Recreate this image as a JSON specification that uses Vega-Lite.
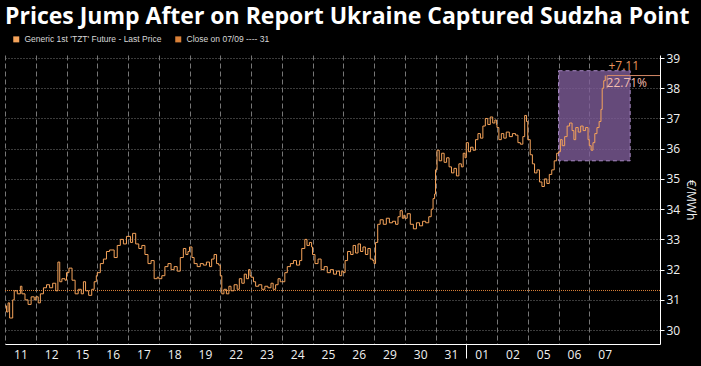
{
  "$schema": "https://vega.github.io/schema/vega-lite/v6.json",
  "width": 655,
  "height": 289,
  "autosize": {"type": "none"},
  "padding": {"left": 5, "top": 55, "right": 41, "bottom": 22},
  "background": "#000000",
  "title": {
    "text": "Prices Jump After on Report Ukraine Captured Sudzha Point",
    "anchor": "start",
    "frame": "group",
    "font": "Open Sans",
    "fontSize": 23,
    "fontWeight": "bold",
    "color": "#ffffff",
    "offset": 6
  },
  "config": {
    "view": {"stroke": null},
    "axis": {
      "labelFont": "Open Sans",
      "titleFont": "Open Sans",
      "labelColor": "#f0f0f0",
      "titleColor": "#f0f0f0",
      "domainColor": "#ffffff",
      "tickColor": "#ffffff",
      "labelOverlap": false
    },
    "legend": {
      "orient": "none",
      "legendX": 7,
      "legendY": -20,
      "direction": "horizontal",
      "symbolType": "square",
      "symbolSize": 9,
      "symbolStrokeWidth": 3,
      "symbolOpacity": 1,
      "labelFont": "Liberation Sans",
      "labelFontSize": 8.5,
      "labelColor": "#d8d8d8",
      "labelLimit": 300,
      "labelOffset": 4,
      "columnPadding": 8,
      "title": null
    }
  },
  "datasets": {
    "box": [{"i": 18.0, "i2": 20.33, "p": 35.6, "p2": 38.58}],
    "close": [{"i": 0, "i2": 21.3, "p": 31.31}],
    "ann": [{"i": 19.58, "i2": 21.3, "p": 38.42}],
    "annv": [{"i": 19.58, "p": 38.42, "p2": 38.0}],
    "txt1": [{"i": 20.12, "p": 38.74, "t": "+7.11"}],
    "txt2": [{"i": 20.22, "p": 38.17, "t": "22.71%"}],
    "price": [
      {"i": 0.00, "p": 30.8}, {"i": 0.05, "p": 30.6}, {"i": 0.10, "p": 30.9}, {"i": 0.15, "p": 30.4},
      {"i": 0.25, "p": 31.0}, {"i": 0.30, "p": 31.3}, {"i": 0.40, "p": 31.2}, {"i": 0.50, "p": 31.45},
      {"i": 0.55, "p": 31.2}, {"i": 0.65, "p": 31.0}, {"i": 0.75, "p": 30.85}, {"i": 0.85, "p": 31.1},
      {"i": 0.95, "p": 31.0},
      {"i": 1.00, "p": 31.1}, {"i": 1.08, "p": 30.9}, {"i": 1.15, "p": 31.2}, {"i": 1.25, "p": 31.4},
      {"i": 1.35, "p": 31.5}, {"i": 1.45, "p": 31.4}, {"i": 1.55, "p": 31.55}, {"i": 1.65, "p": 31.3},
      {"i": 1.72, "p": 32.25}, {"i": 1.78, "p": 31.6}, {"i": 1.85, "p": 31.7}, {"i": 1.95, "p": 31.65},
      {"i": 2.00, "p": 31.9}, {"i": 2.08, "p": 32.05}, {"i": 2.18, "p": 31.65}, {"i": 2.28, "p": 31.2},
      {"i": 2.38, "p": 31.35}, {"i": 2.48, "p": 31.2}, {"i": 2.55, "p": 31.6}, {"i": 2.62, "p": 31.3},
      {"i": 2.72, "p": 31.15}, {"i": 2.82, "p": 31.35}, {"i": 2.90, "p": 31.6}, {"i": 2.97, "p": 31.8},
      {"i": 3.00, "p": 31.9}, {"i": 3.10, "p": 32.2}, {"i": 3.20, "p": 32.35}, {"i": 3.30, "p": 32.6},
      {"i": 3.40, "p": 32.65}, {"i": 3.55, "p": 32.4}, {"i": 3.65, "p": 32.8}, {"i": 3.75, "p": 33.0},
      {"i": 3.85, "p": 32.85}, {"i": 3.95, "p": 33.1},
      {"i": 4.00, "p": 33.1}, {"i": 4.08, "p": 32.9}, {"i": 4.15, "p": 33.2}, {"i": 4.25, "p": 32.85},
      {"i": 4.35, "p": 32.7}, {"i": 4.45, "p": 32.8}, {"i": 4.55, "p": 32.5}, {"i": 4.65, "p": 32.2},
      {"i": 4.75, "p": 32.3}, {"i": 4.85, "p": 31.7}, {"i": 4.95, "p": 31.75},
      {"i": 5.00, "p": 31.7}, {"i": 5.10, "p": 31.8}, {"i": 5.20, "p": 32.1}, {"i": 5.30, "p": 32.2},
      {"i": 5.40, "p": 32.0}, {"i": 5.50, "p": 32.1}, {"i": 5.60, "p": 31.95}, {"i": 5.70, "p": 32.4},
      {"i": 5.80, "p": 32.7}, {"i": 5.88, "p": 32.5}, {"i": 5.95, "p": 32.6},
      {"i": 6.00, "p": 32.75}, {"i": 6.08, "p": 32.4}, {"i": 6.15, "p": 32.2}, {"i": 6.25, "p": 32.1},
      {"i": 6.35, "p": 32.2}, {"i": 6.45, "p": 32.15}, {"i": 6.55, "p": 32.25}, {"i": 6.65, "p": 32.1},
      {"i": 6.72, "p": 32.35}, {"i": 6.80, "p": 32.5}, {"i": 6.88, "p": 32.2}, {"i": 6.95, "p": 32.15},
      {"i": 7.00, "p": 31.8}, {"i": 7.05, "p": 31.2}, {"i": 7.12, "p": 31.35}, {"i": 7.20, "p": 31.2},
      {"i": 7.28, "p": 31.45}, {"i": 7.35, "p": 31.3}, {"i": 7.45, "p": 31.5}, {"i": 7.55, "p": 31.35},
      {"i": 7.62, "p": 31.7}, {"i": 7.70, "p": 31.55}, {"i": 7.78, "p": 31.85}, {"i": 7.85, "p": 31.7},
      {"i": 7.92, "p": 32.0}, {"i": 7.97, "p": 31.8},
      {"i": 8.00, "p": 31.75}, {"i": 8.08, "p": 31.6}, {"i": 8.15, "p": 31.45}, {"i": 8.25, "p": 31.5},
      {"i": 8.35, "p": 31.35}, {"i": 8.45, "p": 31.45}, {"i": 8.55, "p": 31.4}, {"i": 8.65, "p": 31.55},
      {"i": 8.72, "p": 31.35}, {"i": 8.80, "p": 31.5}, {"i": 8.88, "p": 31.7}, {"i": 8.95, "p": 31.6},
      {"i": 9.00, "p": 31.6}, {"i": 9.10, "p": 31.9}, {"i": 9.18, "p": 32.1}, {"i": 9.28, "p": 32.2},
      {"i": 9.38, "p": 32.3}, {"i": 9.48, "p": 32.15}, {"i": 9.58, "p": 32.3}, {"i": 9.65, "p": 32.7},
      {"i": 9.75, "p": 33.0}, {"i": 9.82, "p": 32.8}, {"i": 9.90, "p": 32.9}, {"i": 9.97, "p": 32.75},
      {"i": 10.00, "p": 32.5}, {"i": 10.08, "p": 32.2}, {"i": 10.18, "p": 32.35}, {"i": 10.28, "p": 32.0},
      {"i": 10.38, "p": 32.1}, {"i": 10.48, "p": 31.9}, {"i": 10.58, "p": 32.0}, {"i": 10.68, "p": 31.85},
      {"i": 10.78, "p": 31.95}, {"i": 10.88, "p": 31.8}, {"i": 10.95, "p": 31.95},
      {"i": 11.00, "p": 31.9}, {"i": 11.06, "p": 32.3}, {"i": 11.14, "p": 32.6}, {"i": 11.24, "p": 32.5},
      {"i": 11.32, "p": 32.8}, {"i": 11.40, "p": 32.55}, {"i": 11.48, "p": 32.85}, {"i": 11.56, "p": 32.6},
      {"i": 11.64, "p": 32.75}, {"i": 11.72, "p": 32.5}, {"i": 11.80, "p": 32.7}, {"i": 11.88, "p": 32.35},
      {"i": 11.96, "p": 32.3},
      {"i": 12.00, "p": 32.2}, {"i": 12.05, "p": 32.9}, {"i": 12.12, "p": 33.5}, {"i": 12.20, "p": 33.65},
      {"i": 12.30, "p": 33.5}, {"i": 12.40, "p": 33.7}, {"i": 12.50, "p": 33.55}, {"i": 12.60, "p": 33.6},
      {"i": 12.70, "p": 33.5}, {"i": 12.78, "p": 33.75}, {"i": 12.85, "p": 33.95}, {"i": 12.92, "p": 33.7},
      {"i": 12.97, "p": 33.8},
      {"i": 13.00, "p": 33.7}, {"i": 13.08, "p": 33.85}, {"i": 13.18, "p": 33.5}, {"i": 13.28, "p": 33.35},
      {"i": 13.38, "p": 33.55}, {"i": 13.48, "p": 33.45}, {"i": 13.58, "p": 33.6}, {"i": 13.68, "p": 33.55},
      {"i": 13.78, "p": 33.75}, {"i": 13.86, "p": 34.0}, {"i": 13.92, "p": 34.35}, {"i": 13.97, "p": 34.5},
      {"i": 14.00, "p": 35.3}, {"i": 14.05, "p": 35.95}, {"i": 14.12, "p": 35.6}, {"i": 14.20, "p": 35.85},
      {"i": 14.28, "p": 35.55}, {"i": 14.36, "p": 35.7}, {"i": 14.44, "p": 35.4}, {"i": 14.52, "p": 35.2},
      {"i": 14.60, "p": 35.35}, {"i": 14.68, "p": 35.1}, {"i": 14.76, "p": 35.5}, {"i": 14.84, "p": 35.4},
      {"i": 14.90, "p": 35.85}, {"i": 14.96, "p": 35.7},
      {"i": 15.00, "p": 36.2}, {"i": 15.07, "p": 35.9}, {"i": 15.14, "p": 36.05}, {"i": 15.22, "p": 35.95},
      {"i": 15.30, "p": 36.3}, {"i": 15.38, "p": 36.5}, {"i": 15.46, "p": 36.35}, {"i": 15.54, "p": 36.75},
      {"i": 15.62, "p": 37.0}, {"i": 15.70, "p": 36.8}, {"i": 15.78, "p": 37.05}, {"i": 15.86, "p": 36.85},
      {"i": 15.93, "p": 36.95}, {"i": 15.98, "p": 36.8},
      {"i": 16.00, "p": 36.7}, {"i": 16.06, "p": 36.3}, {"i": 16.14, "p": 36.5}, {"i": 16.22, "p": 36.35},
      {"i": 16.30, "p": 36.55}, {"i": 16.40, "p": 36.4}, {"i": 16.50, "p": 36.5}, {"i": 16.60, "p": 36.45},
      {"i": 16.68, "p": 36.2}, {"i": 16.76, "p": 36.15}, {"i": 16.84, "p": 36.4}, {"i": 16.90, "p": 37.1},
      {"i": 16.96, "p": 36.9},
      {"i": 17.00, "p": 36.3}, {"i": 17.08, "p": 35.8}, {"i": 17.15, "p": 35.5}, {"i": 17.22, "p": 35.2},
      {"i": 17.30, "p": 35.3}, {"i": 17.38, "p": 34.9}, {"i": 17.46, "p": 34.75}, {"i": 17.54, "p": 35.0},
      {"i": 17.62, "p": 34.85}, {"i": 17.70, "p": 35.15}, {"i": 17.78, "p": 35.3}, {"i": 17.86, "p": 35.6},
      {"i": 17.94, "p": 35.85},
      {"i": 18.00, "p": 35.9}, {"i": 18.06, "p": 36.3}, {"i": 18.12, "p": 36.1}, {"i": 18.20, "p": 36.4},
      {"i": 18.28, "p": 36.75}, {"i": 18.36, "p": 36.85}, {"i": 18.44, "p": 36.6}, {"i": 18.50, "p": 36.3},
      {"i": 18.56, "p": 36.7}, {"i": 18.64, "p": 36.55}, {"i": 18.72, "p": 36.75}, {"i": 18.80, "p": 36.6},
      {"i": 18.88, "p": 36.7}, {"i": 18.96, "p": 36.3},
      {"i": 19.00, "p": 36.1}, {"i": 19.06, "p": 35.95}, {"i": 19.12, "p": 36.2}, {"i": 19.18, "p": 36.5},
      {"i": 19.25, "p": 36.7}, {"i": 19.32, "p": 36.9}, {"i": 19.38, "p": 37.3}, {"i": 19.42, "p": 38.0},
      {"i": 19.47, "p": 38.25}, {"i": 19.52, "p": 38.42}
    ]
  },
  "encoding": {
    "x": {
      "field": "i", "type": "quantitative",
      "scale": {"domain": [0, 21.3], "nice": false, "zero": false},
      "axis": {
        "title": null,
        "values": [0, 0.5, 1, 1.5, 2, 2.5, 3, 3.5, 4, 4.5, 5, 5.5, 6, 6.5, 7, 7.5, 8, 8.5, 9, 9.5, 10, 10.5, 11, 11.5, 12, 12.5, 13, 13.5, 14, 14.5, 15, 15.5, 16, 16.5, 17, 17.5, 18, 18.5, 19, 19.5],
        "labelExpr": "datum.value % 1 == 0.5 ? ['11','12','15','16','17','18','19','22','23','24','25','26','29','30','31','01','02','05','06','07'][floor(datum.value)] : ''",
        "labelOverlap": false,
        "labelFlush": false,
        "labelBound": false,
        "labelFontSize": 12,
        "labelPadding": -9,
        "grid": true,
        "gridColor": "#767676",
        "gridDash": [5, 3],
        "gridWidth": 1,
        "gridOpacity": {"condition": {"test": "datum.value % 1 != 0", "value": 0}, "value": 1},
        "ticks": true,
        "tickSize": 14,
        "tickWidth": 1,
        "tickOpacity": {"condition": {"test": "datum.value == 15", "value": 1}, "value": 0},
        "domain": true,
        "domainWidth": 1
      }
    },
    "y": {
      "field": "p", "type": "quantitative",
      "scale": {"domain": [29.54, 39.1], "nice": false, "zero": false},
      "axis": {
        "orient": "right",
        "title": "€/MWh",
        "titleFontSize": 12,
        "titleFontWeight": "normal",
        "titlePadding": 4,
        "values": [30, 31, 32, 33, 34, 35, 36, 37, 38, 39],
        "labelOverlap": false,
        "labelFontSize": 12,
        "labelPadding": 2,
        "tickSize": 4,
        "grid": true,
        "gridColor": "#767676",
        "gridDash": [1, 2],
        "gridWidth": 1,
        "domain": true
      }
    }
  },
  "layer": [
    {
      "data": {"name": "box"},
      "mark": {"type": "rect", "fill": "#7e5c98", "fillOpacity": 0.8, "stroke": "#a889c4", "strokeDash": [4, 3], "strokeWidth": 1},
      "encoding": {
        "x2": {"field": "i2"},
        "y2": {"field": "p2"}
      }
    },
    {
      "data": {"name": "close"},
      "mark": {"type": "rule", "strokeDash": [1, 1], "strokeWidth": 1},
      "encoding": {
        "x2": {"field": "i2"},
        "color": {
          "datum": "Close on 07/09 ---- 31",
          "scale": {
            "domain": ["Generic 1st 'TZT' Future - Last Price", "Close on 07/09 ---- 31"],
            "range": ["#f5a35a", "#d98038"]
          }
        }
      }
    },
    {
      "data": {"name": "price"},
      "mark": {"type": "line", "interpolate": "step-after", "strokeWidth": 1},
      "encoding": {
        "color": {"datum": "Generic 1st 'TZT' Future - Last Price"}
      }
    },
    {
      "data": {"name": "ann"},
      "mark": {"type": "rule", "color": "#d58a68", "strokeWidth": 1},
      "encoding": {
        "x2": {"field": "i2"}
      }
    },
    {
      "data": {"name": "annv"},
      "mark": {"type": "rule", "color": "#d58a68", "strokeWidth": 1},
      "encoding": {
        "y2": {"field": "p2"}
      }
    },
    {
      "data": {"name": "txt1"},
      "mark": {"type": "text", "font": "Open Sans", "fontSize": 12, "align": "center", "baseline": "middle", "color": "#e8925a"},
      "encoding": {
        "text": {"field": "t"}
      }
    },
    {
      "data": {"name": "txt2"},
      "mark": {"type": "text", "font": "Open Sans", "fontSize": 12, "align": "center", "baseline": "middle", "color": "#f2bcae"},
      "encoding": {
        "text": {"field": "t"}
      }
    }
  ]
}
